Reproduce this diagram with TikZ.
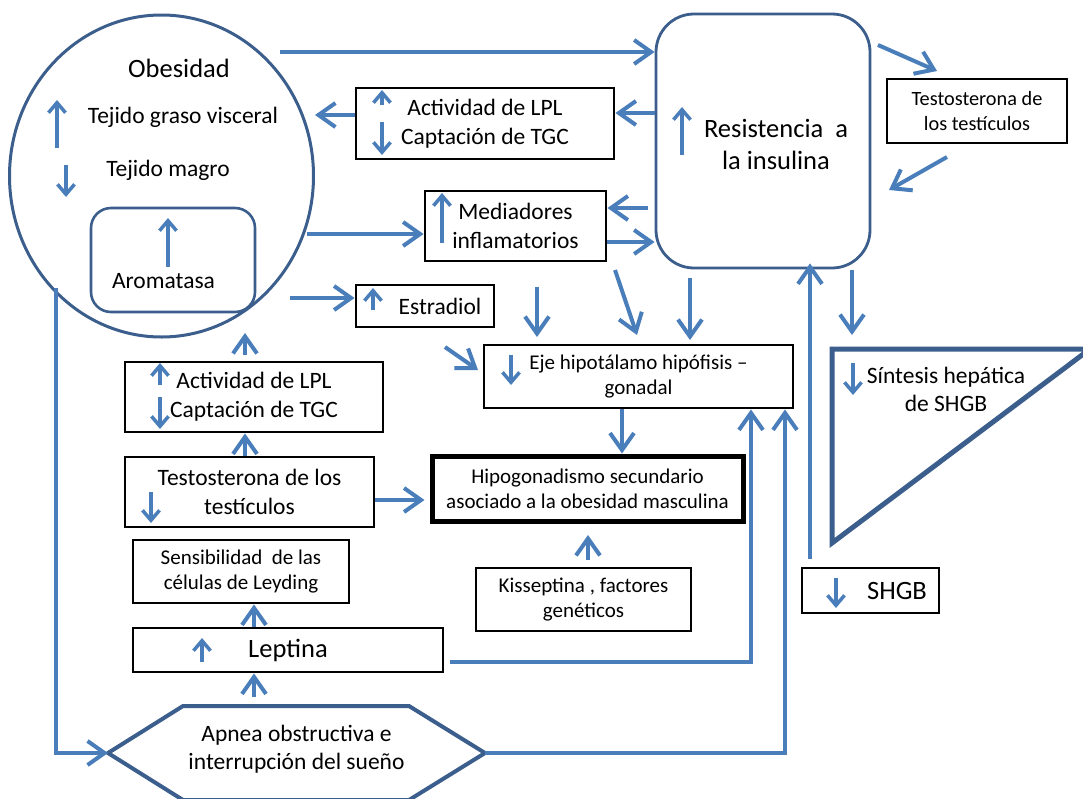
\documentclass[tikz,border=0pt]{standalone}
\usepackage{fontspec}
\setmainfont{Carlito}
\usetikzlibrary{arrows.meta,calc,shapes.geometric}
\definecolor{ablue}{RGB}{74,126,187}
\definecolor{sblue}{RGB}{59,94,140}
\begin{document}
\begin{tikzpicture}[x=1pt,y=-1pt,
  arr/.style={draw=ablue,line width=4pt,-{Straight Barb[length=17pt,width=24pt]}},
  ind/.style={draw=ablue,line width=3.5pt,-{Straight Barb[length=10pt,width=17pt]}},
  bx/.style={draw=black,line width=2.9pt,fill=white,align=center,inner sep=0pt},
  shp/.style={draw=sblue,line width=3pt},
  fA/.style={font=\fontsize{26.5}{32}\selectfont,align=center},
  fB/.style={font=\fontsize{23.5}{29}\selectfont,align=center},
  fC/.style={font=\fontsize{21}{25}\selectfont,align=center},
  fD/.style={font=\fontsize{20.3}{25}\selectfont,align=center},
  fE/.style={font=\fontsize{23.5}{28}\selectfont,align=center},
]
\useasboundingbox (0,0) rectangle (1083,798);
\clip (0,0) rectangle (1083,798);

% ---------- shapes ----------
\node[shp,ellipse,minimum width=304pt,minimum height=322pt,inner sep=0pt] (obes) at (161.5,176) {};
\node[fA] (tObes) at (179,68) {Obesidad};
\node[fB] (tGraso) at (183,117) {Tejido graso visceral};
\node[fB] (tMagro) at (168,170) {Tejido magro};
\node[shp,line width=2.6pt,rounded corners=20pt,minimum width=164pt,minimum height=104pt] (arom) at (173,260) {};
\node[fB] (tArom) at (163.5,281) {Aromatasa};

\node[shp,line width=2.8pt,rounded corners=38pt,minimum width=214pt,minimum height=254pt] (res) at (763,141) {};
\node[fA] (tRes) at (776,144) {Resistencia~~a\\la insulina};

\node[bx,fB,minimum width=258pt,minimum height=71pt] (lplT) at (485,123.5) {Actividad de LPL\\Captación de TGC};
\node[bx,fB,minimum width=181pt,minimum height=70pt] (med) at (515.5,226) {Mediadores\\inflamatorios};
\node[bx,fB,minimum width=138pt,minimum height=42pt] (estr) at (425,306) {\hspace*{30pt}Estradiol};
\node[bx,fC,minimum width=309pt,minimum height=63pt] (eje) at (638.5,376.5) {Eje hipotálamo hipófisis --\\gonadal};
\node[bx,fC,line width=5pt,minimum width=311pt,minimum height=65pt] (hipo) at (587.5,488.5) {Hipogonadismo secundario\\asociado a la obesidad masculina};
\node[bx,fC,minimum width=215pt,minimum height=63pt] (kiss) at (583.5,599.5) {Kisseptina , factores\\genéticos};
\node[bx,fB,minimum width=258pt,minimum height=70pt] (lplL) at (254,397) {Actividad de LPL\\Captación de TGC};
\node[bx,fB,minimum width=249pt,minimum height=70pt] (testL) at (249.5,492) {Testosterona de los\\testículos};
\node[bx,fC,minimum width=216pt,minimum height=63pt] (sens) at (241,571.5) {Sensibilidad~~de las\\células de Leyding};
\node[bx,fA,minimum width=310pt,minimum height=44pt] (lept) at (288,650) {Leptina};
\node[bx,fA,minimum width=137pt,minimum height=45pt] (shgb) at (870.5,590.5) {\hspace*{53pt}SHGB};
\node[bx,fD,minimum width=180pt,minimum height=64pt] (testR) at (977,111) {Testosterona de\\los testículos};

% triangle
\draw[draw=sblue,line width=5pt,line join=miter] (832,349) -- (1090,349) -- (832,543) -- cycle;
\node[fE] (tSint) at (946,389) {Síntesis hepática\\de SHGB};

% hexagon
\coordinate (apL) at (108,753);
\coordinate (apR) at (485,753);
\draw[shp,line width=4pt,line join=miter] (apL) -- (183,706) -- (409,706) -- (apR) -- (409,800) -- (183,800) -- cycle;
\node[fE] (apnea) at (296.5,749) {Apnea obstructiva e\\interrupción del sueño};

% ---------- connectors ----------
\coordinate (a1) at (280,52);
\draw[arr] (a1) -- (a1 -| res.west);
\coordinate (a2) at (655,113);
\draw[arr] (a2) -- (a2 -| lplT.east);
\coordinate (a3) at (315,115);
\draw[arr] (a3 -| lplT.west) -- (a3);
\coordinate (a4) at (307,234);
\draw[arr] (a4) -- (a4 -| med.west);
\coordinate (a5) at (648,208);
\draw[arr] (a5) -- (a5 -| med.east);
\coordinate (a6) at (0,242);
\draw[arr] (a6 -| med.east) -- (a6 -| res.west);
\coordinate (a7) at (290,298);
\draw[arr] (a7) -- (a7 -| estr.west);
\coordinate (a8s) at (537,287); \coordinate (a8e) at (537,337);
\draw[arr] (a8s) -- (a8e);
\coordinate (a9s) at (615,270); \coordinate (a9e) at (637,335);
\draw[arr] (a9s) -- (a9e);
\coordinate (a10s) at (690,278); \coordinate (a10e) at (690,340);
\draw[arr] (a10s) -- (a10e);
\coordinate (a11s) at (445,347); \coordinate (a11e) at (478,370);
\draw[arr] (a11s) -- (a11e);
\coordinate (a12) at (622,0);
\draw[arr] (a12 |- eje.south) -- (a12 |- hipo.north);
\coordinate (a13) at (0,500);
\draw[arr,shorten >=5pt] (a13 -| testL.east) -- (a13 -| hipo.west);
\coordinate (a14s) at (588,560); \coordinate (a14e) at (588,535);
\draw[arr] (a14s) -- (a14e);
\coordinate (a15) at (245,333);
\draw[arr,shorten <=6pt] (a15 |- lplL.north) -- (a15);
\draw[arr] (a15 |- testL.north) -- (a15 |- lplL.south);
\coordinate (a17) at (254,0);
\draw[arr] (a17 |- lept.north) -- (a17 |- sens.south);
\coordinate (a18) at (254,697);
\draw[arr] (a18) -- (a17 |- lept.south);
\coordinate (l1) at (450,662);
\coordinate (e1) at (751,0);
\draw[arr] (l1) -| (e1 |- eje.south);
\coordinate (e2) at (785,0);
\draw[arr] (apR) -| (e2 |- eje.south);
\coordinate (o1) at (56,288);
\draw[arr] (o1) |- (apL);
\coordinate (s1) at (810,0);
\draw[arr,shorten <=8pt,shorten >=-6pt] (s1 |- shgb.north) -- (s1 |- res.south);
\coordinate (r1s) at (852,270); \coordinate (r1e) at (852,335);
\draw[arr] (r1s) -- (r1e);
\coordinate (t1s) at (878,45); \coordinate (t1e) at (937,71);
\draw[arr] (t1s) -- (t1e);
\coordinate (t2s) at (947,157); \coordinate (t2e) at (889,190);
\draw[arr] (t2s) -- (t2e);

% ---------- in-text indicators ----------
\draw[ind] (57,148) -- (57,100);
\draw[ind] (66,165) -- (66,197);
\draw[ind] (168,267) -- (168,218);
\draw[ind] (682,155) -- (682,107);
\draw[ind] (382,105) -- (382,90);
\draw[ind] (382,122) -- (382,155);
\draw[ind] (442,243) -- (442,193);
\draw[ind] (373,310) -- (373,288);
\draw[ind] (511,355) -- (511,385);
\draw[ind] (160,385) -- (160,363);
\draw[ind] (160,397) -- (160,429);
\draw[ind] (151,492) -- (151,523);
\draw[ind] (202,662) -- (202,638);
\draw[ind] (853,363) -- (853,395);
\draw[ind] (836,578) -- (836,608);
\end{tikzpicture}
\end{document}
